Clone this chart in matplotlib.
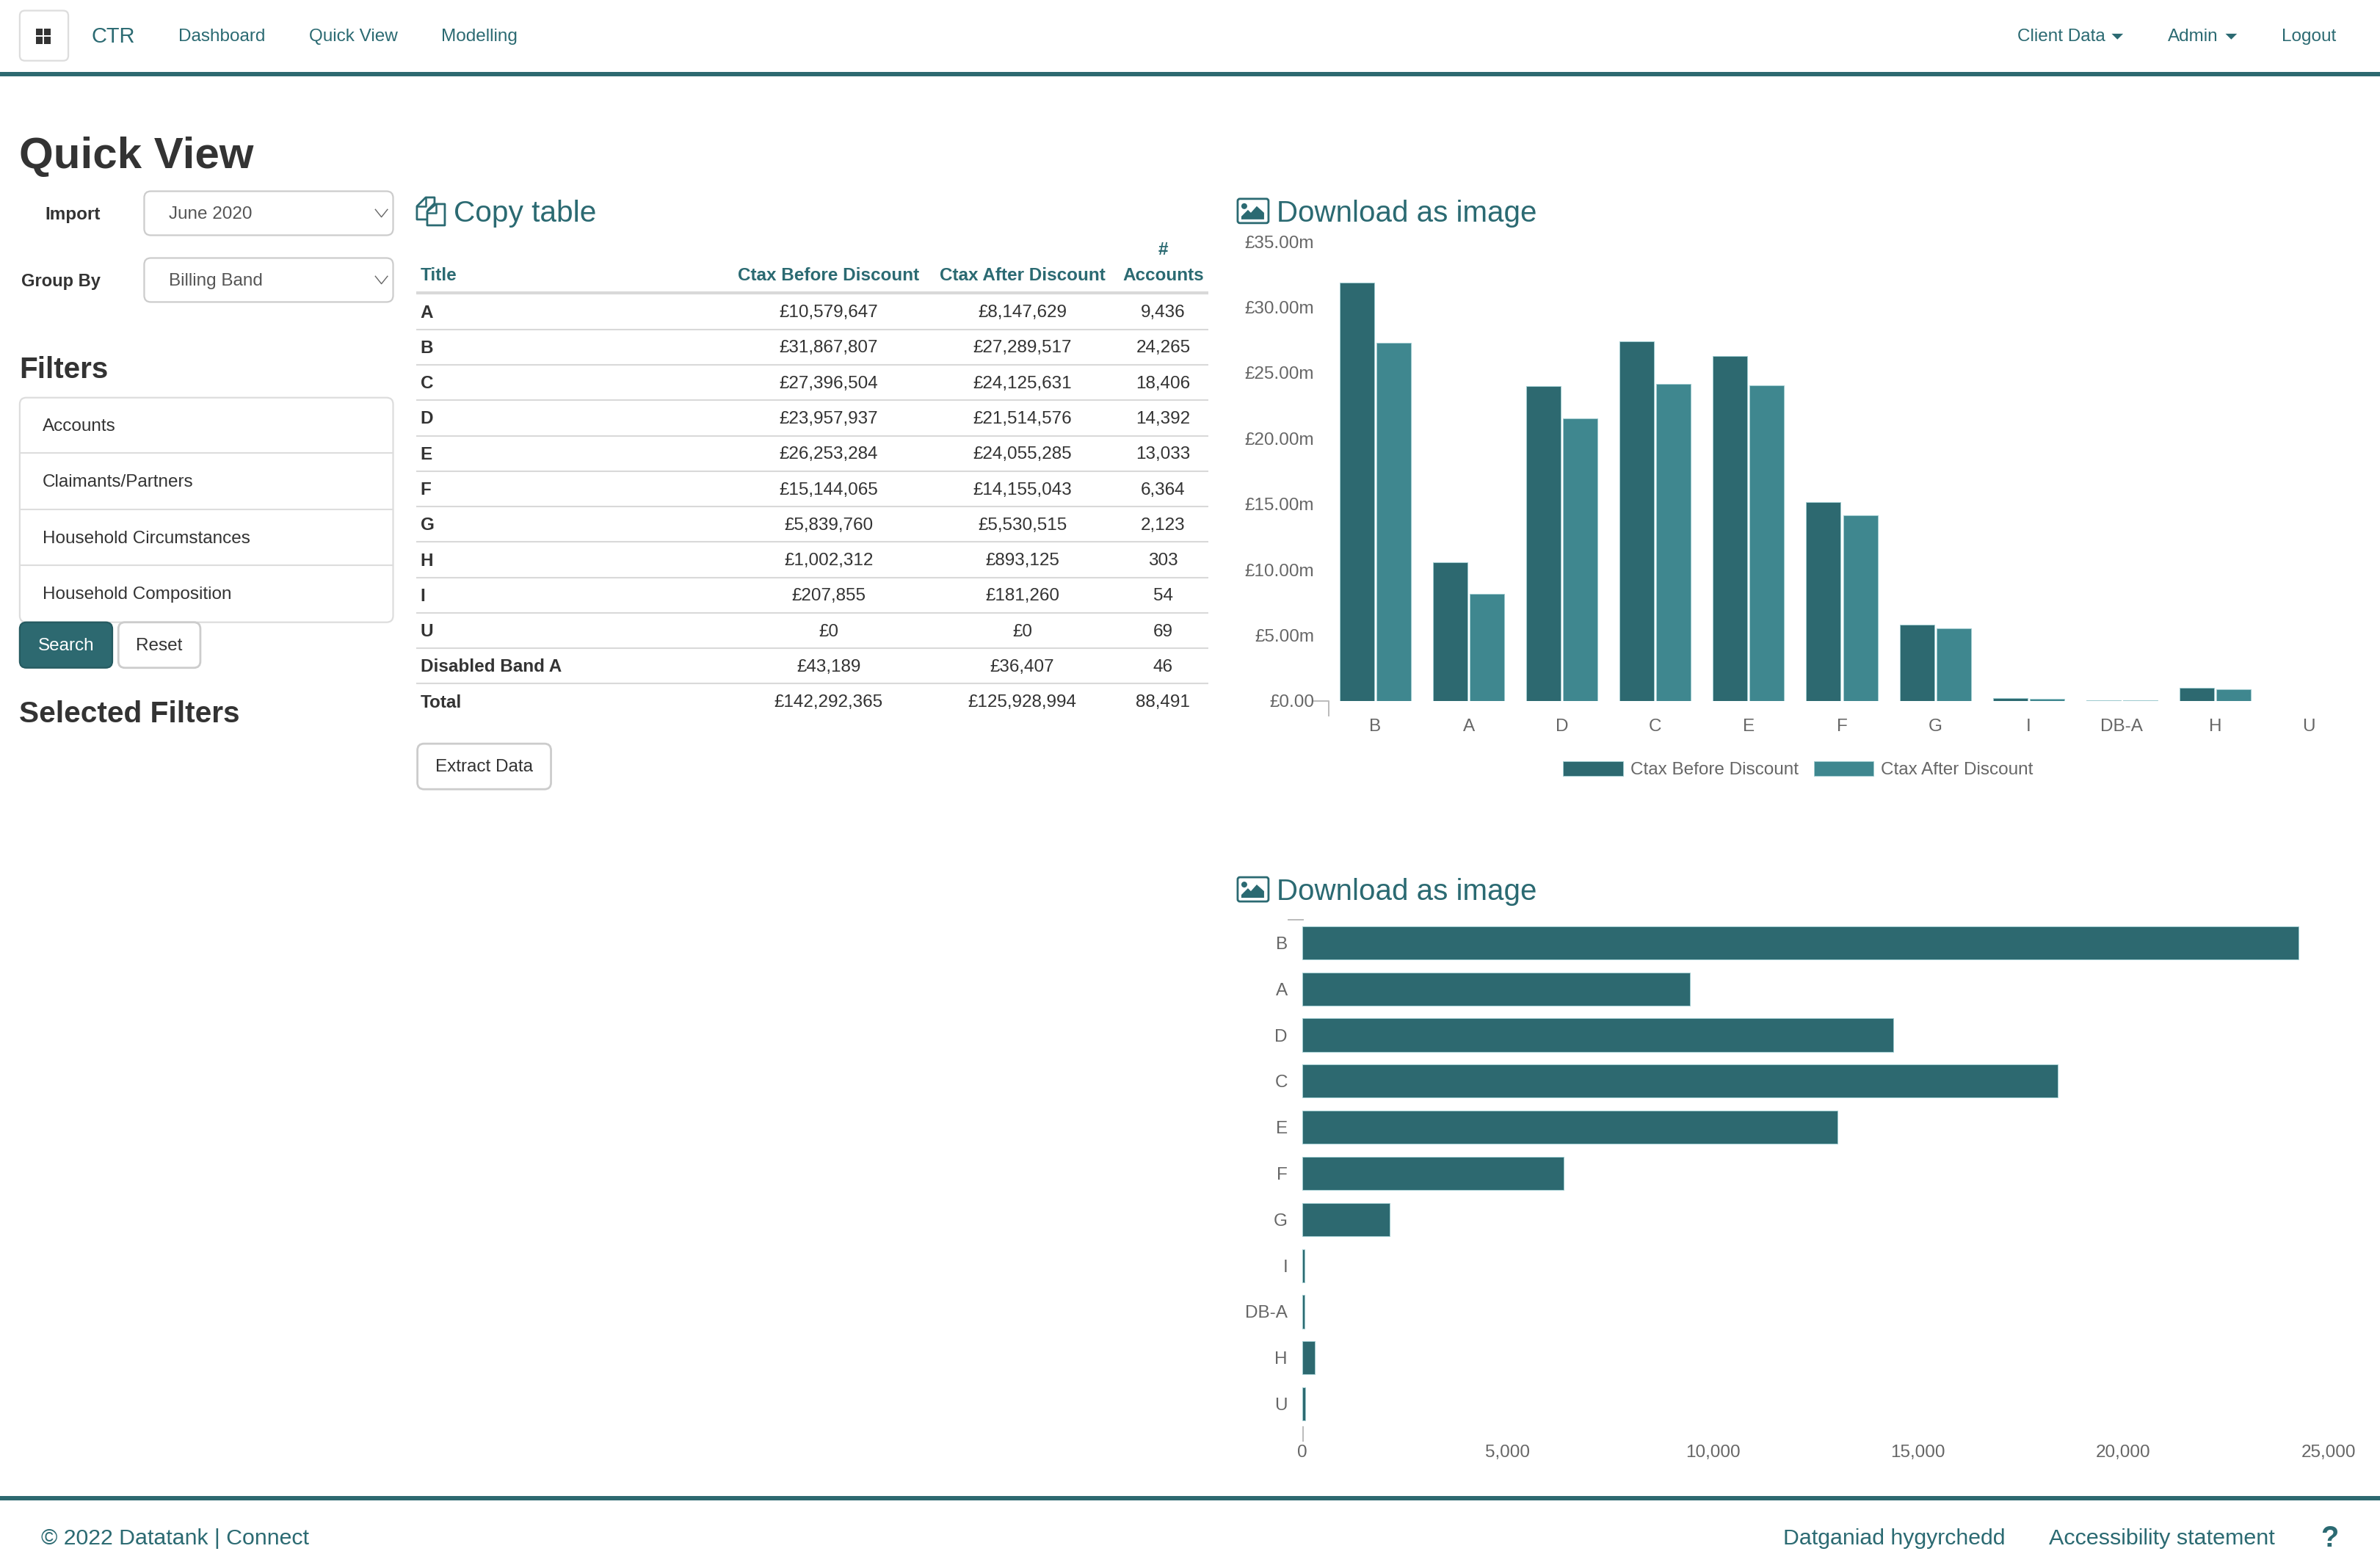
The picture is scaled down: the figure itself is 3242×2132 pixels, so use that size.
import matplotlib
matplotlib.use("Agg")
import matplotlib.pyplot as plt
from matplotlib.patches import FancyBboxPatch, Rectangle, Polygon, Circle
from matplotlib.ticker import FuncFormatter

plt.rcParams['font.family'] = ['Liberation Sans', 'DejaVu Sans']

W, H = 3242, 2132
S = W / 1568.0
DARK = '#2d6970'
LIGHT = '#3f878f'
EDGE = '#9fcbcf'
TEAL = '#2b6a72'
TXT = '#333333'
GREY = '#666666'
LINE = '#d9d9d9'

# ---- data ----
chart_categories = ['B', 'A', 'D', 'C', 'E', 'F', 'G', 'I', 'DB-A', 'H', 'U']
ctax_before = [31867807, 10579647, 23957937, 27396504, 26253284, 15144065, 5839760, 207855, 43189, 1002312, 0]
ctax_after = [27289517, 8147629, 21514576, 24125631, 24055285, 14155043, 5530515, 181260, 36407, 893125, 0]
accounts = [24265, 9436, 14392, 18406, 13033, 6364, 2123, 54, 46, 303, 69]
money_ticks = [0, 5e6, 10e6, 15e6, 20e6, 25e6, 30e6, 35e6]
account_ticks = [0, 5000, 10000, 15000, 20000, 25000]

table_headers = ['Title', 'Ctax Before Discount', 'Ctax After Discount', 'Accounts']
table_titles = ['A', 'B', 'C', 'D', 'E', 'F', 'G', 'H', 'I', 'U', 'Disabled Band A', 'Total']
table_before = ['£10,579,647', '£31,867,807', '£27,396,504', '£23,957,937', '£26,253,284', '£15,144,065',
                '£5,839,760', '£1,002,312', '£207,855', '£0', '£43,189', '£142,292,365']
table_after = ['£8,147,629', '£27,289,517', '£24,125,631', '£21,514,576', '£24,055,285', '£14,155,043',
               '£5,530,515', '£893,125', '£181,260', '£0', '£36,407', '£125,928,994']
table_accounts = ['9,436', '24,265', '18,406', '14,392', '13,033', '6,364', '2,123', '303', '54', '69', '46', '88,491']
filter_items = ['Accounts', 'Claimants/Partners', 'Household Circumstances', 'Household Composition']

fig = plt.figure(figsize=(W / 100, H / 100), dpi=100, facecolor='white')
page = fig.add_axes([0, 0, 1, 1], zorder=0)
page.set_xlim(0, W)
page.set_ylim(H, 0)
page.axis('off')


def pt(px):
    return px * 0.72


def T(x, y, s, size=24.2, color=TXT, weight='normal', ha='left', va='center'):
    page.text(x * S, (y + 0.8) * S, s, fontsize=pt(size), color=color, fontweight=weight, ha=ha, va=va)


def box(x0, y0, x1, y1, ec='#cccccc', fc='white', r=9, lw=1.6):
    x0, y0, x1, y1 = x0 * S, y0 * S, x1 * S, y1 * S
    page.add_patch(FancyBboxPatch((x0 + r, y0 + r), x1 - x0 - 2 * r, y1 - y0 - 2 * r,
                                  boxstyle=f'round,pad={r},rounding_size={r}', ec=ec, fc=fc, lw=lw))


def hline(x0, x1, y, c=LINE, lw=1.5):
    page.plot([x0 * S, x1 * S], [y * S, y * S], color=c, lw=lw, solid_capstyle='butt')


def caret(x, y):
    page.add_patch(Polygon([((x - 3.8) * S, (y - 1.8) * S), ((x + 3.8) * S, (y - 1.8) * S), (x * S, (y + 2) * S)],
                           fc=TEAL, ec='none'))


def chevron(x, y):
    page.plot([(x - 4) * S, x * S, (x + 4) * S], [(y - 2.5) * S, (y + 2.5) * S, (y - 2.5) * S],
              color='#666666', lw=1.0)


def image_icon(x, y):
    x0, y0 = x * S, y * S
    w, h = 42, 33
    page.add_patch(FancyBboxPatch((x0 + 2, y0 + 2), w - 4, h - 4, boxstyle='round,pad=2,rounding_size=3',
                                  ec=TEAL, fc='white', lw=2.0))
    page.add_patch(Polygon([(x0 + 5, y0 + 28), (x0 + 5, y0 + 24), (x0 + 14, y0 + 15), (x0 + 18, y0 + 19),
                            (x0 + 26, y0 + 10), (x0 + 36, y0 + 19), (x0 + 36, y0 + 28)], fc=TEAL, ec='none'))
    page.add_patch(Circle((x0 + 9, y0 + 10), 4, fc=TEAL, ec='none'))


def copy_icon(x, y):
    x0, y0 = x * S, y * S
    back = [(1, 13), (13, 1), (25, 1), (25, 9), (16, 18), (16, 31), (1, 31)]
    front = [(15, 20), (27, 10), (39, 10), (39, 39), (15, 39)]
    for poly in (back, front):
        page.add_patch(Polygon([(x0 + a, y0 + b) for a, b in poly], fc='white', ec=TEAL, lw=2.0, joinstyle='round'))
    page.plot([x0 + 1, x0 + 13, x0 + 13], [y0 + 13, y0 + 13, y0 + 1], color=TEAL, lw=1.8)
    page.plot([x0 + 15, x0 + 27, x0 + 27], [y0 + 22, y0 + 22, y0 + 10], color=TEAL, lw=1.8)


# ---- nav ----
page.add_patch(Rectangle((0, 98), W, 6, fc=DARK, ec='none'))
box(13, 7, 45, 40, ec='#dddddd', r=7)
for dx in (23.5, 28.9):
    for dy in (18.7, 24.1):
        page.add_patch(Rectangle((dx * S, dy * S), 4.7 * S, 4.7 * S, fc='#333333', ec='none'))
T(60, 23.4, 'CTR', 29, TEAL)
T(117.7, 23.2, 'Dashboard', 24.2, TEAL)
T(203.7, 23.2, 'Quick View', 24.2, TEAL)
T(290.7, 23.2, 'Modelling', 24.2, TEAL)
T(1329, 23.2, 'Client Data', 24.2, TEAL)
caret(1395, 24)
T(1428, 23.2, 'Admin', 24.2, TEAL)
caret(1470, 24)
T(1503, 23.2, 'Logout', 24.2, TEAL)

# ---- left column ----
T(12.5, 102.3, 'Quick View', 60, TXT, 'bold')
T(66, 140.5, 'Import', 24.2, TXT, 'bold', ha='right')
T(66, 184.5, 'Group By', 23.6, TXT, 'bold', ha='right')
box(95, 126, 259, 155)
box(95, 170, 259, 199)
T(111, 140.4, 'June 2020', 24.2, '#555555')
T(111, 184.4, 'Billing Band', 24.2, '#555555')
chevron(251.3, 140.5)
chevron(251.3, 184.5)
T(12.7, 243.2, 'Filters', 40.4, TXT, 'bold')
box(13, 262, 259, 410, ec='#dddddd')
for yy in (298.5, 335.5, 372.5):
    hline(13, 259, yy, '#dddddd')
for yy, s in zip((280, 317, 354, 391), filter_items):
    T(28, yy, s, 24.2, TXT)
box(13, 410, 74, 440, ec='#255a60', fc=DARK)
T(43.5, 425, 'Search', 24.2, 'white', ha='center')
box(78, 410, 132, 440, ec='#cccccc', lw=2)
T(105, 425, 'Reset', 24.2, TXT, ha='center')
T(12.7, 470, 'Selected Filters', 40.6, TXT, 'bold')

# ---- table ----
copy_icon(274.2, 129.6)
T(299, 140, 'Copy table', 40.6, TEAL)
col_before, col_after, col_acc = 546, 673.5, 766.3
T(277, 181, table_headers[0], 24.2, TEAL, 'bold')
T(col_before, 181, table_headers[1], 24.2, TEAL, 'bold', ha='center')
T(col_after, 181, table_headers[2], 24.2, TEAL, 'bold', ha='center')
T(col_acc, 164, '#', 24.2, TEAL, 'bold', ha='center')
T(col_acc, 181, table_headers[3], 24.2, TEAL, 'bold', ha='center')
hline(274, 796, 193, LINE, 3)
for i, title in enumerate(table_titles):
    yy = 205.3 + i * 23.35
    T(277, yy, title, 24.2, TXT, 'bold')
    T(col_before, yy, table_before[i], 24.2, TXT, ha='center')
    T(col_after, yy, table_after[i], 24.2, TXT, ha='center')
    T(col_acc, yy, table_accounts[i], 24.2, TXT, ha='center')
    if i < len(table_titles) - 1:
        hline(274, 796, yy + 11.7, LINE, 1.5)
box(275, 490, 363, 520, ec='#cccccc', lw=2)
T(319, 504.5, 'Extract Data', 24.2, TXT, ha='center')

# ---- chart headers ----
image_icon(815.4, 131)
T(841, 140, 'Download as image', 40.3, TEAL)
image_icon(815.4, 578)
T(841, 587, 'Download as image', 40.3, TEAL)


def axes_px(x0, y0, x1, y1):
    return fig.add_axes([x0 / W, 1 - y1 / H, (x1 - x0) / W, (y1 - y0) / H], zorder=1, facecolor='none')


# ---- chart 1 ----
ax1 = axes_px(1810, 329, 3208, 955)
ind = list(range(len(chart_categories)))
off = 0.197
bar_style = dict(edgecolor=EDGE, linewidth=0.7)
b1 = ax1.bar([i - off for i in ind], ctax_before, 0.37, color=DARK, label='Ctax Before Discount', **bar_style)
b2 = ax1.bar([i + off for i in ind], ctax_after, 0.37, color=LIGHT, label='Ctax After Discount', **bar_style)
ax1.set_xlim(-0.5, len(ind) - 0.5)
ax1.set_ylim(0, 35e6)
ax1.set_yticks(money_ticks)
ax1.yaxis.set_major_formatter(FuncFormatter(lambda v, p: f'£{v / 1e6:.2f}m' if v else '£0.00'))
ax1.set_xticks(ind)
ax1.set_xticklabels(chart_categories)
ax1.tick_params(axis='y', length=0, pad=pt(20), labelsize=pt(24.2), labelcolor=GREY)
ax1.tick_params(axis='x', length=0, pad=pt(24), labelsize=pt(24.2), labelcolor=GREY)
for sp in ax1.spines.values():
    sp.set_visible(False)
page.plot([1790, 1810, 1810], [955, 955, 975], color='#bbbbbb', lw=1.4)
fig.legend(handles=[b1, b2], loc='center', bbox_to_anchor=(1184.7 * S / W, 1 - 507 * S / H), ncol=2,
           frameon=False, fontsize=pt(24.2), labelcolor=GREY, handlelength=3.37, handleheight=0.9,
           handletextpad=0.42, columnspacing=0.85, borderpad=0, borderaxespad=0)

# ---- chart 2 ----
ax2 = axes_px(1774, 1253, 3172, 1944)
ax2.barh(ind, accounts, 0.72, color=DARK, **bar_style)
ax2.set_ylim(len(ind) - 0.5, -0.5)
ax2.set_xlim(0, 25000)
ax2.set_yticks(ind)
ax2.set_yticklabels(chart_categories)
ax2.set_xticks(account_ticks)
ax2.xaxis.set_major_formatter(FuncFormatter(lambda v, p: f'{int(v):,}'))
ax2.tick_params(axis='y', length=0, pad=pt(20), labelsize=pt(24.2), labelcolor=GREY)
ax2.tick_params(axis='x', length=0, pad=pt(24), labelsize=pt(24.2), labelcolor=GREY)
for sp in ax2.spines.values():
    sp.set_visible(False)
page.plot([1755, 1775], [1253, 1253], color='#bbbbbb', lw=1.4)
page.plot([1775, 1775], [1944, 1963], color='#bbbbbb', lw=1.4)

# ---- footer ----
page.add_patch(Rectangle((0, 2038), W, 6, fc=DARK, ec='none'))
T(27, 1013, '© 2022 Datatank | Connect', 30.3, TEAL)
T(1175, 1013, 'Datganiad hygyrchedd', 30.3, TEAL)
T(1350, 1013, 'Accessibility statement', 30.5, TEAL)
T(1535, 1013, '?', 40, TEAL, 'bold', ha='center')

fig.savefig('out.png', dpi=100, facecolor='white')
